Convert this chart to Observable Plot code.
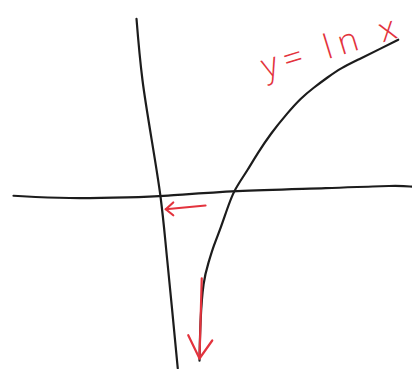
<!DOCTYPE html>
<html>
<head>
<meta charset="utf-8">
<script src="https://cdn.jsdelivr.net/npm/d3@7"></script>
<script src="https://cdn.jsdelivr.net/npm/@observablehq/plot@0.6"></script>
<style>
  html, body { margin: 0; padding: 0; background: #fff; }
  #chart svg { display: block; }
  #chart text.label-text { letter-spacing: 7px; }
</style>
</head>
<body>
<div id="chart"></div>
<script>
// Hand-sketched axes and curve of y = ln x (math coordinates, x = 1 where curve crosses)
const xAxisX = [-1.96, -1.24, -0.36, 0, 0.97, 2.27, 3.16, 3.36];
const xAxisY = [0.01, -0.03, -0.01, 0, 0.08, 0.11, 0.15, 0.13];

const yAxisX = [-0.32, -0.24, 0, 0.09, 0.23];
const yAxisY = [2.37, 1.55, 0, -0.85, -2.29];

const curveX = [3.17, 2.93, 2.67, 2.4, 2.23, 2.04, 1.87, 1.69, 1.47, 1.29, 1.16, 1.04, 0.97, 0.89, 0.8, 0.71, 0.64, 0.57, 0.53, 0.52];
const curveY = [2.09, 1.97, 1.84, 1.71, 1.59, 1.45, 1.31, 1.11, 0.84, 0.57, 0.35, 0.17, 0.05, -0.16, -0.43, -0.65, -0.88, -1.12, -1.65, -2.19];

const downShaftX = [0.55, 0.52];
const downShaftY = [-1.09, -2.16];
const downHeadX = [0.37, 0.52, 0.69];
const downHeadY = [-1.85, -2.16, -1.92];

const leftShaftX = [0.6, 0.07];
const leftShaftY = [-0.12, -0.17];
const leftHeadX = [0.17, 0.07, 0.17];
const leftHeadY = [-0.08, -0.17, -0.25];

const labelText = ["y= ln x"];
const labelX = [2.29];
const labelY = [2.0];

const pts = (xs, ys) => xs.map((x, i) => ({x, y: ys[i]}));

const black = "#1c1c1c";
const red = "#e3333d";

const plot = Plot.plot({
  width: 412,
  height: 369,
  margin: 0,
  x: {domain: [-2.1333, 3.36], axis: null},
  y: {domain: [-2.3067, 2.6133], axis: null},
  style: {background: "#fff"},
  marks: [
    Plot.line(pts(xAxisX, xAxisY), {x: "x", y: "y", stroke: black, strokeWidth: 2.2, curve: "basis"}),
    Plot.line(pts(yAxisX, yAxisY), {x: "x", y: "y", stroke: black, strokeWidth: 2.2, curve: "catmull-rom"}),
    Plot.line(pts(curveX, curveY), {x: "x", y: "y", stroke: black, strokeWidth: 2.2, curve: "basis"}),
    Plot.line(pts(downShaftX, downShaftY), {x: "x", y: "y", stroke: red, strokeWidth: 2.2}),
    Plot.line(pts(downHeadX, downHeadY), {x: "x", y: "y", stroke: red, strokeWidth: 2.2, strokeLinejoin: "round"}),
    Plot.line(pts(leftShaftX, leftShaftY), {x: "x", y: "y", stroke: red, strokeWidth: 2.2}),
    Plot.line(pts(leftHeadX, leftHeadY), {x: "x", y: "y", stroke: red, strokeWidth: 2.2, strokeLinejoin: "round"}),
    Plot.text(labelText.map((t, i) => ({t, x: labelX[i], y: labelY[i]})), {
      x: "x", y: "y", text: "t", fill: red, fontSize: 34, rotate: -17,
      fontFamily: "Open Sans", fontWeight: 300, textAnchor: "middle", lineAnchor: "middle"
    })
  ]
});
plot.querySelectorAll("g[aria-label='text'] text").forEach(t => t.classList.add("label-text"));
document.getElementById("chart").appendChild(plot);
</script>
</body>
</html>
